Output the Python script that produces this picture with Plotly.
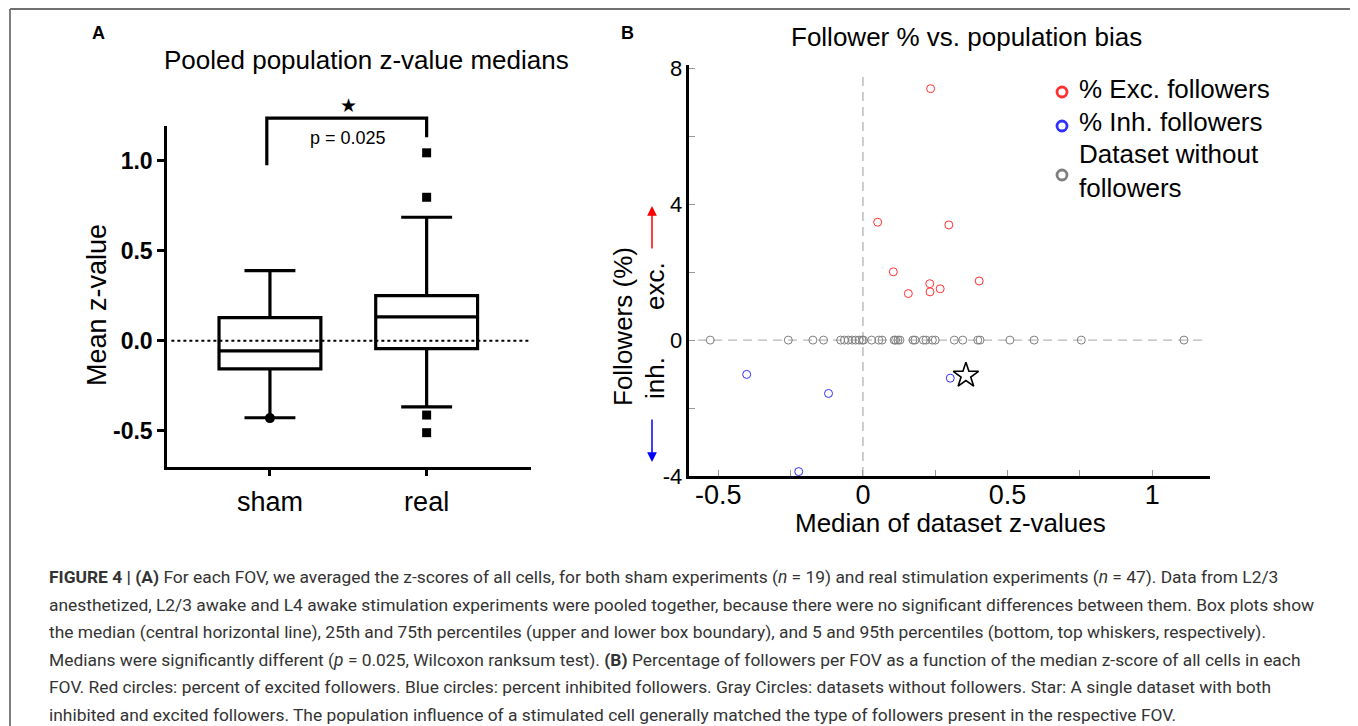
import plotly.graph_objects as go

# page geometry (browser body margin is 8px)
OFF = 8
FW, FH = 1350, 718

# ---------------- Panel A data ----------------
categories = ["sham", "real"]
box_q1 = [-0.157, -0.044]
box_median = [-0.056, 0.132]
box_q3 = [0.128, 0.250]
box_lower = [-0.428, -0.368]
box_upper = [0.389, 0.686]
sham_outliers = [-0.430]
real_outliers = [1.044, 0.797, -0.413, -0.511]
a_ytick_vals = [-0.5, 0.0, 0.5, 1.0]
a_ytick_text = ["-0.5", "0.0", "0.5", "1.0"]
p_label = "p = 0.025"
bracket_left_y = 0.975
bracket_top_y = 1.237
bracket_right_y = 1.130
star_y = 1.31
p_y = 1.126

# ---------------- Panel B data ----------------
exc_x = [0.234, 0.051, 0.297, 0.105, 0.402, 0.231, 0.267, 0.232, 0.157]
exc_y = [7.40, 3.47, 3.39, 2.01, 1.74, 1.66, 1.51, 1.42, 1.37]
inh_x = [-0.402, -0.119, -0.222, 0.302]
inh_y = [-1.01, -1.57, -3.87, -1.12]
both_x = [0.356]
both_y = [-1.04]
none_x = [-0.528, -0.258, -0.173, -0.136, -0.077, -0.064, -0.051, -0.037,
          -0.025, -0.013, -0.003, 0.002, 0.030, 0.055, 0.066, 0.108, 0.113,
          0.121, 0.128, 0.173, 0.180, 0.209, 0.218, 0.240, 0.250, 0.316,
          0.345, 0.397, 0.405, 0.508, 0.592, 0.755, 1.110]
none_y = [0, 0, 0, 0, 0, 0, 0, 0, 0, 0, 0, 0, 0, 0, 0, 0, 0,
          0, 0, 0, 0, 0, 0, 0, 0, 0, 0, 0, 0, 0, 0, 0, 0]
b_xtick_vals = [-0.5, -0.25, 0, 0.25, 0.5, 0.75, 1.0]
b_xtick_text = ["-0.5", "", "0", "", "0.5", "", "1"]
b_ytick_vals = [-4, -2, 0, 2, 4, 6, 8]
b_ytick_text = ["-4", "", "0", "", "4", "", "8"]
legend_names = ["% Exc. followers", "% Inh. followers", "Dataset without<br>followers"]

caption_lines = [
    "<b>FIGURE 4 | (A)</b> For each FOV, we averaged the z-scores of all cells, for both sham experiments (<i>n</i> = 19) and real stimulation experiments (<i>n</i> = 47). Data from L2/3",
    "anesthetized, L2/3 awake and L4 awake stimulation experiments were pooled together, because there were no significant differences between them. Box plots show",
    "the median (central horizontal line), 25th and 75th percentiles (upper and lower box boundary), and 5 and 95th percentiles (bottom, top whiskers, respectively).",
    "Medians were significantly different (<i>p</i> = 0.025, Wilcoxon ranksum test). <b>(B)</b> Percentage of followers per FOV as a function of the median z-score of all cells in each",
    "FOV. Red circles: percent of excited followers. Blue circles: percent inhibited followers. Gray Circles: datasets without followers. Star: A single dataset with both",
    "inhibited and excited followers. The population influence of a stimulated cell generally matched the type of followers present in the respective FOV.",
]

FONT = "Liberation Sans, Arial, sans-serif"
RED = "#ff3030"
BLUE = "#3030ff"
GRAY = "#7f7f7f"


def P(x):  # page x pixel -> paper fraction
    return (x - OFF) / FW


def Q(y):  # page y pixel -> paper fraction
    return 1 - (y - OFF) / FH


xa_range = [-0.657, 1.666]
ya_range = [-0.70, 1.193]
xb_range = [-0.6, 1.2]
yb_range = [-4, 8.1]

fig = go.Figure()

# Panel A boxes
fig.add_trace(go.Box(
    x=categories, q1=box_q1, median=box_median, q3=box_q3,
    lowerfence=box_lower, upperfence=box_upper,
    width=0.65, whiskerwidth=0.5, boxpoints=False,
    line=dict(color="black", width=3.2), fillcolor="rgba(0,0,0,0)",
    showlegend=False, xaxis="x", yaxis="y", hoverinfo="skip"))
fig.add_trace(go.Scatter(
    x=[categories[0]] * len(sham_outliers), y=sham_outliers, mode="markers",
    marker=dict(symbol="circle", size=10, color="black"),
    showlegend=False, xaxis="x", yaxis="y", cliponaxis=False))
fig.add_trace(go.Scatter(
    x=[categories[1]] * len(real_outliers), y=real_outliers, mode="markers",
    marker=dict(symbol="square", size=9, color="black"),
    showlegend=False, xaxis="x", yaxis="y", cliponaxis=False))

# Panel B scatter
mk = dict(symbol="circle-open", size=8, line=dict(width=1))
fig.add_trace(go.Scatter(x=none_x, y=none_y, mode="markers", name=legend_names[2],
                         marker=dict(mk, color=GRAY), showlegend=False,
                         xaxis="x2", yaxis="y2", cliponaxis=False))
fig.add_trace(go.Scatter(x=exc_x, y=exc_y, mode="markers", name=legend_names[0],
                         marker=dict(mk, color=RED), showlegend=False,
                         xaxis="x2", yaxis="y2", cliponaxis=False))
fig.add_trace(go.Scatter(x=inh_x, y=inh_y, mode="markers", name=legend_names[1],
                         marker=dict(mk, color=BLUE), showlegend=False,
                         xaxis="x2", yaxis="y2", cliponaxis=False))
fig.add_trace(go.Scatter(x=both_x, y=both_y, mode="markers", name="both",
                         marker=dict(symbol="star-open", size=19, color="black",
                                     line=dict(width=1.6)),
                         showlegend=False, xaxis="x2", yaxis="y2", cliponaxis=False))


def xa_frac(i):
    return (i - xa_range[0]) / (xa_range[1] - xa_range[0])


def ya_frac(v):
    return (v - ya_range[0]) / (ya_range[1] - ya_range[0])


shapes = []
# dotted zero line in A
shapes.append(dict(type="line", xref="x domain", yref="y", x0=0.012, x1=1,
                   y0=0, y1=0, line=dict(color="black", width=2, dash="dot")))
# significance bracket
bl, br = -0.02, 1.0
shapes.append(dict(type="path", xref="x domain", yref="y domain",
                   path=f"M {xa_frac(bl)} {ya_frac(bracket_left_y)} L {xa_frac(bl)} {ya_frac(bracket_top_y)} "
                        f"L {xa_frac(br)} {ya_frac(bracket_top_y)} L {xa_frac(br)} {ya_frac(bracket_right_y)}",
                   line=dict(color="black", width=3.2)))
# dashed zero lines in B
shapes.append(dict(type="line", xref="x2", yref="y2", x0=-0.57, x1=1.19, y0=0, y1=0,
                   line=dict(color="#b8b8b8", width=1.4, dash="9px,6px"), layer="below"))
shapes.append(dict(type="line", xref="x2", yref="y2", x0=0, x1=0, y0=-4, y1=7.8,
                   line=dict(color="#b8b8b8", width=1.4, dash="9px,6px"), layer="below"))
# outer border (left, top, right edges)
border = dict(color="#707070", width=1.8)
bx0, bx1, by0, by1 = P(10), P(1354.5), Q(9), 0.0
shapes.append(dict(type="line", xref="paper", yref="paper", x0=bx0, x1=bx0, y0=by1, y1=by0, line=border))
shapes.append(dict(type="line", xref="paper", yref="paper", x0=bx0, x1=bx1, y0=by0, y1=by0, line=border))
shapes.append(dict(type="line", xref="paper", yref="paper", x0=bx1, x1=bx1, y0=by1, y1=by0, line=border))

# manual legend symbols
leg_cx = 1062
leg_cy = [92, 126, 175]
leg_r = 5
for cy, col in zip(leg_cy, [RED, BLUE, GRAY]):
    shapes.append(dict(type="circle", xref="paper", yref="paper",
                       x0=P(leg_cx - leg_r), x1=P(leg_cx + leg_r),
                       y0=Q(cy + leg_r), y1=Q(cy - leg_r),
                       line=dict(color=col, width=2.8)))

ann = []


def text(x, y, s, size, xanchor="center", **kw):
    d = dict(x=P(x), y=Q(y), xref="paper", yref="paper", text=s, showarrow=False,
             xanchor=xanchor, yanchor="middle",
             font=dict(family=FONT, size=size, color="black"))
    d.update(kw)
    ann.append(d)


text(98, 33, "<b>A</b>", 18)
text(627, 33, "<b>B</b>", 18)
text(367, 60, "Pooled population z-value medians", 26)
text(966, 37, "Follower % vs. population bias", 26)
text(97, 305, "Mean z-value", 27, textangle=-90)
text(623, 327, "Followers (%)", 26, textangle=-90)
text(655, 286, "exc.", 26, textangle=-90)
text(655, 378, "inh.", 26, textangle=-90)
text(950, 523, "Median of dataset z-values", 26)

# legend text
text(1077, 89, legend_names[0], 26, xanchor="left")
text(1077, 122, legend_names[1], 26, xanchor="left")
text(1077, 171, legend_names[2], 26, xanchor="left", align="left")

# star and p-value in panel A
ann.append(dict(x=0.5, y=ya_frac(star_y), xref="x", yref="y domain", text="★",
                showarrow=False, xanchor="center", yanchor="middle",
                font=dict(family="DejaVu Sans", size=19, color="black")))
ann.append(dict(x=0.5, y=ya_frac(p_y), xref="x", yref="y domain", text=p_label,
                showarrow=False, xanchor="center", yanchor="middle",
                font=dict(family=FONT, size=18, color="black")))

# arrows
ann.append(dict(x=P(652), y=Q(206), xref="paper", yref="paper", ax=0, ay=44,
                text="", showarrow=True, arrowhead=2, arrowsize=1.3, arrowwidth=1.5,
                arrowcolor="red"))
ann.append(dict(x=P(652), y=Q(462), xref="paper", yref="paper", ax=0, ay=-44,
                text="", showarrow=True, arrowhead=2, arrowsize=1.3, arrowwidth=1.5,
                arrowcolor="blue"))

cap_y = [577, 604.5, 632, 659.5, 687, 714.5]
for line, yy in zip(caption_lines, cap_y):
    ann.append(dict(x=P(47), y=Q(yy), xref="paper", yref="paper", text=line,
                    showarrow=False, xanchor="left", yanchor="middle",
                    font=dict(family="Roboto", size=17.4, color="#333333")))

fig.update_layout(
    width=FW, height=FH, margin=dict(l=0, r=0, t=0, b=0, autoexpand=False),
    paper_bgcolor="white", plot_bgcolor="white",
    font=dict(family=FONT, color="black"),
    shapes=shapes, annotations=ann,
    showlegend=False,
    xaxis=dict(domain=[P(167), P(531)], range=xa_range, type="category",
               categoryorder="array", categoryarray=categories,
               showline=True, linecolor="black", linewidth=2.5,
               ticks="outside", ticklen=7, tickwidth=2.5, tickcolor="black",
               tickfont=dict(size=27), showgrid=False, zeroline=False,
               ticklabelstandoff=2, anchor="y", automargin=False),
    yaxis=dict(domain=[Q(466.7), Q(126)], range=ya_range,
               tickvals=a_ytick_vals, ticktext=["<b>%s</b>" % t for t in a_ytick_text],
               showline=True, linecolor="black", linewidth=2.5,
               ticks="outside", ticklen=7, tickwidth=2.5, tickcolor="black",
               tickfont=dict(size=23), showgrid=False, zeroline=False, anchor="x",
               automargin=False),
    xaxis2=dict(domain=[P(689.4), P(1210)], range=xb_range,
                tickvals=b_xtick_vals, ticktext=b_xtick_text,
                showline=True, linecolor="black", linewidth=2.5,
                ticks="inside", ticklen=6, tickwidth=1, tickcolor="#999999",
                tickfont=dict(size=27), showgrid=False, zeroline=False, anchor="y2",
                ticklabelstandoff=-7, automargin=False),
    yaxis2=dict(domain=[Q(476), Q(64.9)], range=yb_range,
                tickvals=b_ytick_vals, ticktext=b_ytick_text,
                showline=True, linecolor="black", linewidth=2.5,
                ticks="inside", ticklen=6, tickwidth=1, tickcolor="#999999",
                tickfont=dict(size=22), showgrid=False, zeroline=False, anchor="x2",
                automargin=False),
)

fig.write_html("out.html")
